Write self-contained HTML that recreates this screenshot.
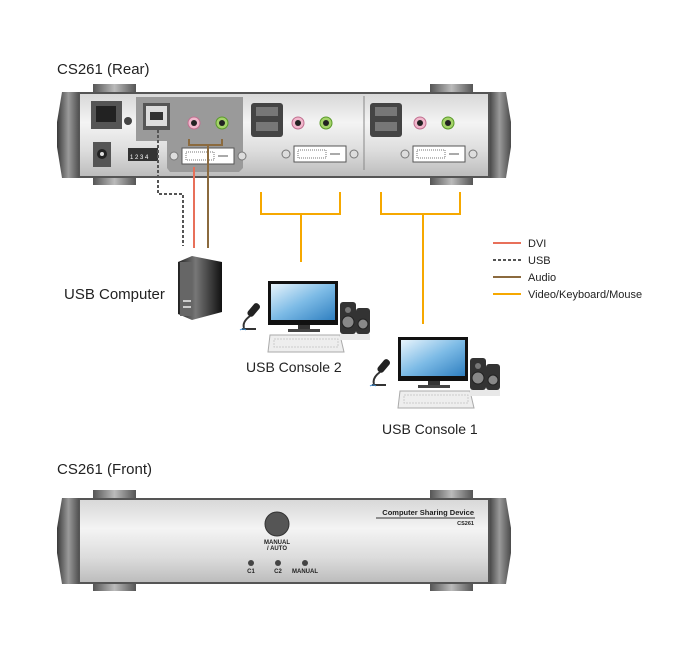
<!DOCTYPE html>
<html><head><meta charset="utf-8"><style>
body{margin:0;background:#fff}
svg{display:block}
text{font-family:"Liberation Sans",sans-serif}
</style></head><body>
<svg width="700" height="661" viewBox="0 0 700 661" xmlns="http://www.w3.org/2000/svg">
<defs>
<linearGradient id="body" x1="0" y1="0" x2="0" y2="1">
<stop offset="0" stop-color="#d8d8d8"/><stop offset="0.35" stop-color="#f4f4f4"/><stop offset="0.7" stop-color="#dcdcdc"/><stop offset="1" stop-color="#bdbdbd"/></linearGradient>
<linearGradient id="cap" x1="0" y1="0" x2="1" y2="0">
<stop offset="0" stop-color="#3a3a3a"/><stop offset="0.5" stop-color="#9a9a9a"/><stop offset="1" stop-color="#4a4a4a"/></linearGradient>
<linearGradient id="foot" x1="0" y1="0" x2="1" y2="0">
<stop offset="0" stop-color="#555"/><stop offset="0.5" stop-color="#bbb"/><stop offset="1" stop-color="#555"/></linearGradient>
<linearGradient id="scr" x1="0" y1="0" x2="1" y2="1">
<stop offset="0" stop-color="#e8f4fc"/><stop offset="0.5" stop-color="#7dbbe6"/><stop offset="1" stop-color="#2f7fc0"/></linearGradient>
<linearGradient id="tower" x1="0" y1="0" x2="1" y2="0">
<stop offset="0" stop-color="#222"/><stop offset="0.4" stop-color="#777"/><stop offset="1" stop-color="#111"/></linearGradient>
<g id="box">
<rect x="93" y="-8" width="43" height="10" fill="url(#foot)"/>
<rect x="430" y="-8" width="43" height="10" fill="url(#foot)"/>
<rect x="93" y="83" width="43" height="10" fill="url(#foot)"/>
<rect x="430" y="83" width="43" height="10" fill="url(#foot)"/>
<path d="M62 0 L80 0 L80 86 L62 86 L57 55 L57 30 Z" fill="url(#cap)"/>
<path d="M488 0 L506 0 L511 30 L511 55 L506 86 L488 86 Z" fill="url(#cap)"/>
<rect x="78" y="0" width="412" height="86" fill="#555"/>
<rect x="80" y="2" width="408" height="82" fill="url(#body)"/>
</g>
<g id="dvi">
<circle cx="0" cy="0" r="4" fill="#ddd" stroke="#777"/>
<rect x="8" y="-8" width="52" height="16" fill="#fff" stroke="#555"/>
<rect x="12" y="-4" width="28" height="8" fill="none" stroke="#777" stroke-dasharray="1 1"/>
<line x1="44" y1="0" x2="54" y2="0" stroke="#555"/>
<circle cx="68" cy="0" r="4" fill="#ddd" stroke="#777"/>
</g>
<g id="usb2">
<rect x="0" y="0" width="32" height="34" rx="3" fill="#444"/>
<rect x="5" y="4" width="22" height="9" fill="#777"/>
<rect x="5" y="19" width="22" height="9" fill="#777"/>
</g>
<g id="jacks">
<circle cx="0" cy="0" r="6" fill="#f1b7cc" stroke="#c07090"/><circle cx="0" cy="0" r="3" fill="#222"/>
<circle cx="28" cy="0" r="6" fill="#a5d36a" stroke="#5a9a2a"/><circle cx="28" cy="0" r="3" fill="#222"/>
</g>
<g id="console">
<path d="M4 26 Q2 20 10 14" stroke="#333" stroke-width="2" fill="none"/>
<rect x="10" y="0" width="7" height="15" rx="3" fill="#222" transform="rotate(40 13 8)"/>
<rect x="2" y="26" width="14" height="2" fill="#333"/>
<path d="M0 28 q3 -2 6 0" stroke="#3a8ad0" fill="none"/>
<rect x="28" y="-21" width="70" height="44" fill="#111"/>
<rect x="31" y="-18" width="64" height="36" fill="url(#scr)"/>
<rect x="58" y="23" width="12" height="4" fill="#333"/>
<rect x="48" y="27" width="32" height="3" fill="#444"/>
<path d="M30 33 L100 33 L104 50 L28 50 Z" fill="#eee" stroke="#aaa"/>
<rect x="34" y="37" width="64" height="8" fill="none" stroke="#ccc" stroke-dasharray="2 1"/>
<rect x="100" y="0" width="16" height="32" rx="3" fill="#333"/><circle cx="108" cy="20" r="6" fill="#888" stroke="#222"/><circle cx="108" cy="8" r="3" fill="#777"/>
<rect x="116" y="6" width="14" height="26" rx="3" fill="#333"/><circle cx="123" cy="22" r="5" fill="#888" stroke="#222"/>
<rect x="100" y="32" width="30" height="6" fill="#e8e8e8"/>
</g>
</defs>

<text x="57" y="74" font-size="15" fill="#222">CS261 (Rear)</text>
<g transform="translate(0,92)"><use href="#box"/></g>
<rect x="91" y="101" width="31" height="28" fill="#555"/><rect x="96" y="106" width="20" height="16" fill="#222"/>
<circle cx="128" cy="121" r="4" fill="#444"/>
<rect x="93" y="142" width="18" height="25" fill="#555"/><circle cx="102" cy="154" r="5" fill="#222"/><circle cx="102" cy="154" r="2" fill="#ddd"/>
<rect x="128" y="148" width="30" height="13" fill="#333"/><text x="130" y="159" font-size="6" fill="#fff">1 2 3 4</text>
<path d="M136 97 L243 97 L243 168 L239 172 L170 172 L167 168 L167 141 L136 141 Z" fill="#9a9a9a"/>
<rect x="143" y="103" width="27" height="27" fill="#555"/><rect x="146" y="106" width="21" height="20" fill="#ddd"/><rect x="150" y="112" width="13" height="8" fill="#333"/>
<use href="#jacks" x="194" y="123"/>
<use href="#dvi" x="174" y="156"/>
<use href="#dvi" x="286" y="154"/>
<use href="#dvi" x="405" y="154"/>
<use href="#usb2" x="251" y="103"/>
<use href="#usb2" x="370" y="103"/>
<use href="#jacks" x="298" y="123"/>
<use href="#jacks" x="420" y="123"/>
<line x1="364" y1="96" x2="364" y2="170" stroke="#888"/>
<path d="M189 139 L189 145 L222 145 L222 139 M208 145 L208 248" stroke="#8b6a3e" stroke-width="2" fill="none"/>
<line x1="194" y1="167" x2="194" y2="248" stroke="#e8705a" stroke-width="2"/>
<path d="M158 130 L158 194 L183 194 L183 246" stroke="#555" stroke-width="2" stroke-dasharray="3 2" fill="none"/>
<path d="M261 192 L261 214 L340 214 L340 192 M301 214 L301 262" stroke="#f6a800" stroke-width="2" fill="none"/>
<path d="M381 192 L381 214 L460 214 L460 192 M423 214 L423 324" stroke="#f6a800" stroke-width="2" fill="none"/>
<line x1="493" y1="243" x2="521" y2="243" stroke="#e8705a" stroke-width="2"/><text x="528" y="247" font-size="11" fill="#222">DVI</text>
<line x1="493" y1="260" x2="521" y2="260" stroke="#555" stroke-width="2" stroke-dasharray="3 2"/><text x="528" y="264" font-size="11" fill="#222">USB</text>
<line x1="493" y1="277" x2="521" y2="277" stroke="#8b6a3e" stroke-width="2"/><text x="528" y="281" font-size="11" fill="#222">Audio</text>
<line x1="493" y1="294" x2="521" y2="294" stroke="#f6a800" stroke-width="2"/><text x="528" y="298" font-size="11" fill="#222">Video/Keyboard/Mouse</text>
<path d="M178 262 L192 256 L222 262 L222 312 L192 320 L178 314 Z" fill="url(#tower)"/>
<rect x="180" y="262" width="12" height="54" fill="#666"/>
<rect x="183" y="300" width="8" height="2" fill="#ccc"/><rect x="183" y="306" width="8" height="2" fill="#ccc"/>
<text x="64" y="299" font-size="15" fill="#222">USB Computer</text>
<use href="#console" x="240" y="302"/>
<use href="#console" x="370" y="358"/>
<text x="246" y="372" font-size="14" fill="#222">USB Console 2</text>
<text x="382" y="434" font-size="14" fill="#222">USB Console 1</text>

<text x="57" y="474" font-size="15" fill="#222">CS261 (Front)</text>
<g transform="translate(0,498)"><use href="#box"/></g>
<circle cx="277" cy="524" r="12" fill="#555" stroke="#333"/>
<text x="277" y="544" font-size="6" font-weight="bold" text-anchor="middle" fill="#222">MANUAL</text>
<text x="277" y="550" font-size="6" font-weight="bold" text-anchor="middle" fill="#222">/ AUTO</text>
<circle cx="251" cy="563" r="3" fill="#444"/><circle cx="278" cy="563" r="3" fill="#444"/><circle cx="305" cy="563" r="3" fill="#444"/>
<text x="251" y="573" font-size="6" font-weight="bold" text-anchor="middle" fill="#222">C1</text>
<text x="278" y="573" font-size="6" font-weight="bold" text-anchor="middle" fill="#222">C2</text>
<text x="305" y="573" font-size="6" font-weight="bold" text-anchor="middle" fill="#222">MANUAL</text>
<text x="474" y="515" font-size="7.5" font-weight="bold" text-anchor="end" fill="#222">Computer Sharing Device</text>
<line x1="376" y1="518" x2="475" y2="518" stroke="#333"/>
<text x="474" y="525" font-size="5.5" font-weight="bold" text-anchor="end" fill="#222">CS261</text>
</svg>
</body></html>
